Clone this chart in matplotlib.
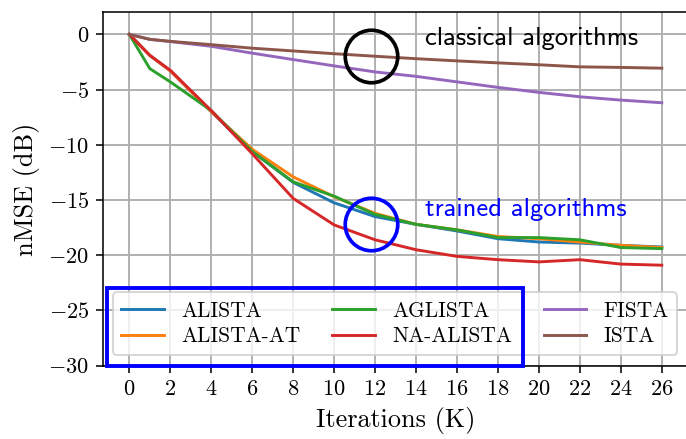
import numpy as np
import matplotlib
matplotlib.use("Agg")
import matplotlib.pyplot as plt
from matplotlib.patches import Rectangle

plt.rcParams['font.family'] = 'cmr10'
plt.rcParams['mathtext.fontset'] = 'cm'
plt.rcParams['axes.formatter.use_mathtext'] = True

# Iterations (K)
iters = [0, 1, 2, 4, 6, 8, 10, 12, 14, 16, 18, 20, 22, 24, 26]

# nMSE (dB)
alista = [0, -1.9, -3.3, -7.0, -10.6, -13.4, -15.25, -16.5, -17.2, -17.8, -18.5, -18.8, -18.9, -19.1, -19.25]
alista_at = [0, -1.9, -3.3, -7.0, -10.4, -12.9, -14.7, -16.2, -17.2, -17.7, -18.3, -18.5, -18.8, -19.1, -19.3]
aglista = [0, -3.1, -4.3, -6.9, -10.6, -13.35, -14.65, -16.3, -17.2, -17.7, -18.4, -18.4, -18.6, -19.3, -19.4]
na_alista = [0, -1.9, -3.25, -6.9, -10.8, -14.85, -17.25, -18.6, -19.5, -20.1, -20.4, -20.6, -20.4, -20.8, -20.9]
fista = [0, -0.45, -0.65, -1.08, -1.7, -2.28, -2.85, -3.4, -3.8, -4.3, -4.8, -5.25, -5.65, -5.95, -6.19]
ista = [0, -0.45, -0.63, -0.93, -1.25, -1.5, -1.75, -1.98, -2.2, -2.4, -2.58, -2.75, -2.94, -2.99, -3.06]

series = [("ALISTA", alista), ("ALISTA-AT", alista_at), ("AGLISTA", aglista),
          ("NA-ALISTA", na_alista), ("FISTA", fista), ("ISTA", ista)]

fig = plt.figure(figsize=(686 / 140, 439 / 140), dpi=140)
ax = fig.add_axes([102.7 / 686, (439 - 365.7) / 439, (688.4 - 102.7) / 686, (365.7 - 12.3) / 439])

for name, vals in series:
    ax.plot(iters, vals, label=name, lw=1.5)

ax.set_xticks(np.arange(0, 27, 2))
ax.set_xlim(-1.3, 27.3)
ax.set_ylim(-30, 2)
ax.tick_params(labelsize=11.5)
ax.grid(True, color='#b0b0b0', lw=1.0)
ax.set_xlabel("Iterations (K)", fontsize=13.5)
ax.set_ylabel("nMSE (dB)", fontsize=13.5)
ax.legend(ncol=3, loc='lower left', bbox_to_anchor=(0.0171, 0.0303, 0.964, 0.2),
          mode='expand', borderaxespad=0, fontsize=11, labelspacing=0.3,
          handlelength=2.0)

# circles marking the two groups
ax.plot([11.8], [-2.0], marker='o', ms=27, mfc='none', mec='black', mew=1.9, clip_on=False)
ax.plot([11.8], [-17.2], marker='o', ms=27, mfc='none', mec='blue', mew=1.9, clip_on=False)
ax.text(14.45, -0.36, "classical algorithms", family='cmss10', fontsize=13.7, va='center')
ax.text(14.45, -15.9, "trained algorithms", family='cmss10', fontsize=13.7, va='center', color='blue')

# box around the legend
ax.add_patch(Rectangle((-1.1, -30.05), 20.3, 7.1, fill=False, ec='blue', lw=2.0, clip_on=False, zorder=10))

fig.savefig("out.png", dpi=140)
